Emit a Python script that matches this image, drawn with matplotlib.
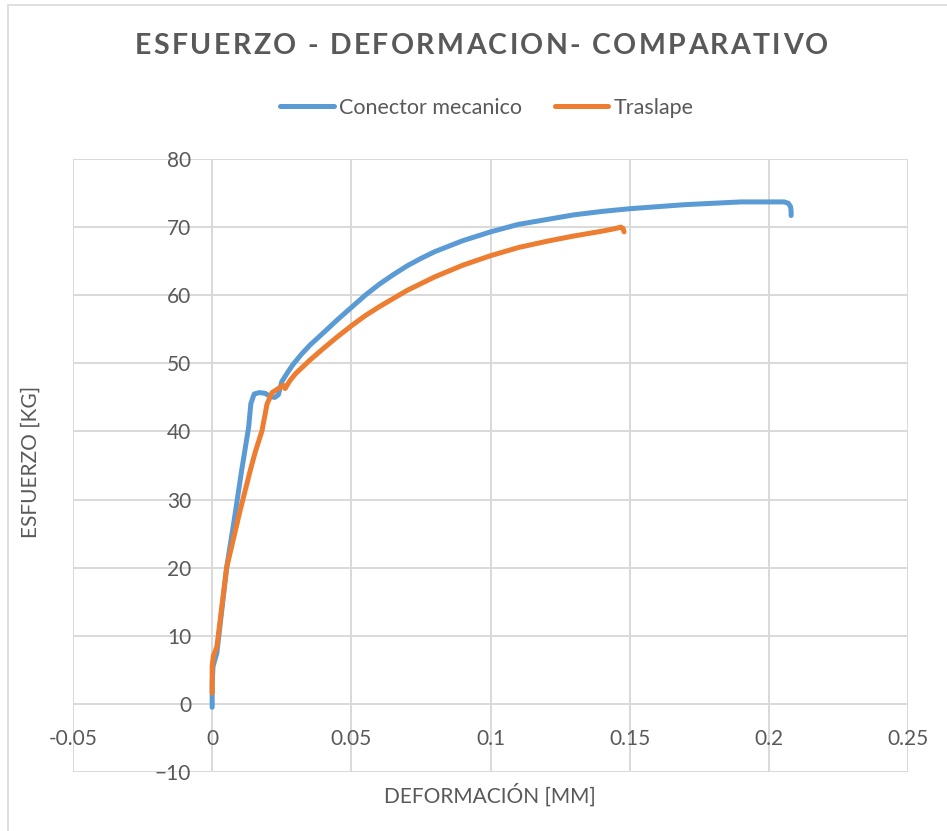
import matplotlib
matplotlib.use('Agg')
import matplotlib.pyplot as plt
from matplotlib.patches import Rectangle

# Conector mecanico: deformación [mm] vs esfuerzo [kg]
conector_x = [0.0, 0.0, 0.0003, 0.0017, 0.0052, 0.0080, 0.0106, 0.0131, 0.0139,
              0.0151, 0.0170, 0.0190, 0.0210, 0.0225, 0.0238, 0.0250, 0.0270,
              0.0290, 0.0320, 0.0352, 0.0400, 0.0450, 0.0500, 0.0550, 0.0600,
              0.0650, 0.0700, 0.0750, 0.0800, 0.0900, 0.1000, 0.1100, 0.1200,
              0.1300, 0.1400, 0.1500, 0.1600, 0.1700, 0.1800, 0.1900, 0.2000,
              0.2055, 0.2070, 0.2078, 0.2080, 0.2080]
conector_y = [-0.5, 3.0, 5.5, 7.5, 20.0, 27.2, 34.3, 40.6, 44.1,
              45.5, 45.7, 45.6, 45.1, 45.0, 45.4, 47.3, 48.6,
              49.8, 51.3, 52.7, 54.5, 56.4, 58.2, 60.0, 61.6,
              63.0, 64.3, 65.4, 66.4, 68.0, 69.3, 70.4, 71.1,
              71.8, 72.3, 72.7, 73.0, 73.3, 73.5, 73.7, 73.7,
              73.7, 73.5, 73.0, 72.4, 71.7]

# Traslape
traslape_x = [0.0, 0.0, 0.0004, 0.0017, 0.0052, 0.0101, 0.0137, 0.0155, 0.0179,
              0.0197, 0.0215, 0.0245, 0.0255, 0.0262, 0.0280, 0.0300, 0.0352,
              0.0400, 0.0450, 0.0500, 0.0550, 0.0600, 0.0650, 0.0700, 0.0750,
              0.0800, 0.0900, 0.1000, 0.1100, 0.1200, 0.1300, 0.1400, 0.1450,
              0.1468, 0.1476, 0.1480]
traslape_y = [1.6, 5.5, 7.0, 8.4, 20.0, 28.5, 34.3, 37.0, 40.1,
              44.0, 45.7, 46.5, 46.8, 46.3, 47.5, 48.5, 50.5,
              52.2, 53.9, 55.5, 57.0, 58.3, 59.5, 60.7, 61.7,
              62.7, 64.4, 65.8, 67.0, 67.9, 68.7, 69.4, 69.8,
              70.0, 69.8, 69.3]

x_ticks = [-0.05, 0, 0.05, 0.1, 0.15, 0.2, 0.25]
x_labels = ['-0.05', '0', '0.05', '0.1', '0.15', '0.2', '0.25']
y_ticks = [-10, 0, 10, 20, 30, 40, 50, 60, 70, 80]

title = 'ESFUERZO - DEFORMACION- COMPARATIVO'

plt.rcParams['font.family'] = ['Lato', 'DejaVu Sans']
gray = '#595959'

W, H = 947, 831
fig = plt.figure(figsize=(W / 100, H / 100), dpi=100)
ax = fig.add_axes([73 / W, 1 - 772 / H, (908 - 73) / W, (772 - 159) / H])

ax.plot(conector_x, conector_y, color='#5B9BD5', lw=3.6,
        solid_capstyle='round', solid_joinstyle='round', label='Conector mecanico')
ax.plot(traslape_x, traslape_y, color='#ED7D31', lw=3.6,
        solid_capstyle='round', solid_joinstyle='round', label='Traslape')

ax.set_xlim(-0.05, 0.25)
ax.set_ylim(-10, 80)
ax.set_xticks(x_ticks)
ax.set_xticklabels(x_labels)
ax.set_yticks(y_ticks)
ax.grid(True, color='#D9D9D9', lw=1.4, zorder=0)
ax.set_axisbelow(True)

# axes cross at the origin, like the spreadsheet default
ax.spines['left'].set_position(('data', 0))
ax.spines['bottom'].set_position(('data', 0))
for s in ax.spines.values():
    s.set_visible(False)
ax.tick_params(length=0, labelsize=15, labelcolor=gray)
ax.tick_params(axis='x', pad=18)
ax.tick_params(axis='y', pad=15)

# spaced-out bold title, laid out one letter at a time
renderer = fig.canvas.get_renderer()
letters = [fig.text(0, 1 - 46 / H, ch, ha='left', va='center', fontsize=20.5,
                    fontweight='bold', color=gray) for ch in title]
widths = [t.get_window_extent(renderer).width if ch != ' ' else 0
          for t, ch in zip(letters, title)]
space_w = fig.text(0, 0, 'a b', fontsize=20.5, fontweight='bold').get_window_extent(renderer).width \
    - fig.text(0, 0, 'ab', fontsize=20.5, fontweight='bold').get_window_extent(renderer).width
fig.texts[-2:] = []
widths = [w if ch != ' ' else space_w for w, ch in zip(widths, title)]
x0, x1 = 135, 828
track = (x1 - x0 - sum(widths)) / (len(title) - 1)
pos = x0
for t, w in zip(letters, widths):
    t.set_x(pos / W)
    pos += w + track

fig.text(490 / W, 1 - 795 / H, 'DEFORMACIÓN [MM]', ha='center', va='center',
         fontsize=15, color=gray)
fig.text(31 / W, 1 - 462 / H, 'ESFUERZO [KG]', ha='center', va='center',
         rotation=90, fontsize=15, color=gray)

fig.legend(loc='center', bbox_to_anchor=(487 / W, 1 - 108 / H), ncol=2,
           frameon=False, fontsize=15.5, handlelength=2.5, handletextpad=0.25,
           columnspacing=1.5, labelcolor=gray)

# chart area border
fig.patches.append(Rectangle((8 / W, -0.1), 2, 1.1 - 5 / H, transform=fig.transFigure,
                             fill=False, edgecolor='#D9D9D9', lw=1.2))

fig.savefig('out.png', dpi=100)
